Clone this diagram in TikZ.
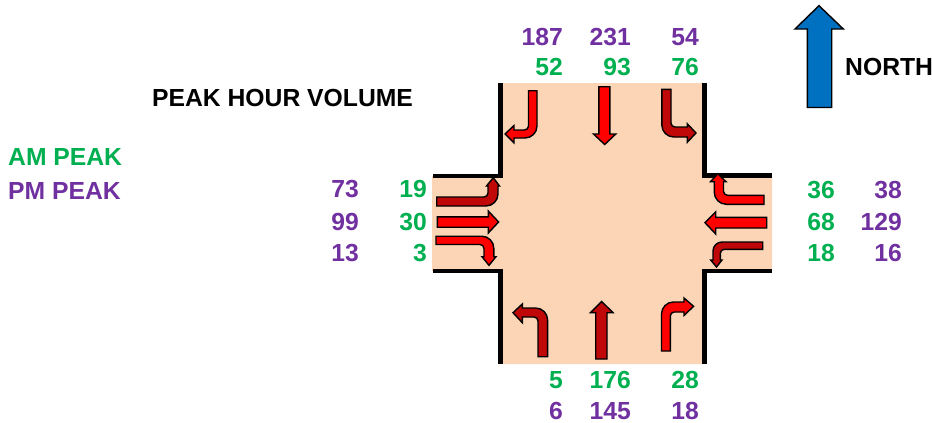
\documentclass[tikz,border=0pt]{standalone}
\usepackage{fontspec}
\setmainfont{Liberation Sans}
\definecolor{road}{HTML}{FBD5B5}
\definecolor{amg}{HTML}{00B050}
\definecolor{pmp}{HTML}{7030A0}
\definecolor{redA}{HTML}{FF0000}
\definecolor{redB}{HTML}{C00808}
\definecolor{northb}{HTML}{0070C0}
\tikzset{
  x=1pt,y=-1pt,
  lbl/.style={font=\fontsize{24.7}{28}\selectfont\bfseries,inner sep=0pt,anchor=base west},
  num/.style={lbl,anchor=base east},
  am/.style={text=amg},
  pm/.style={text=pmp},
  wall/.style={draw=black,line width=4.3pt,line join=miter,line cap=butt},
  bright/.style={fill=redA,draw=black,line width=1.4pt,line join=miter},
  bdark/.style={fill=redB,draw=black,line width=1.4pt,line join=miter},
}
\begin{document}
\begin{tikzpicture}
\useasboundingbox (0,0) rectangle (932,423);
% road
\fill[road] (500,83) -- (705,83) -- (705,176) -- (772,176) -- (772,271) -- (705,271) -- (705,364) -- (500,364) -- (500,271) -- (432,271) -- (432,176) -- (500,176) -- cycle;
\draw[wall] (500.5,83) -- (500.5,176) -- (433,176);
\draw[wall] (704.5,83) -- (704.5,175.5) -- (772,175.5);
\draw[wall] (433,271) -- (500.5,271) -- (500.5,364.3);
\draw[wall] (772,271) -- (704.5,271) -- (704.5,364.3);
% north arrow
\draw[fill=northb,draw=black,line width=1.4pt,line join=miter] (807.3,107.5) -- (807.3,29) -- (795,29) -- (819,5.7) -- (843.3,29) -- (831.7,29) -- (831.7,107.5) -- cycle;
% southbound
\draw[bright] (537,90.7) -- (528.5,90.7) [rounded corners=4] -- (528.5,130) [sharp corners] -- (514,130) -- (514,125.5) -- (505,134) -- (514,142.8) -- (514,138) [rounded corners=12] -- (537,138) [sharp corners] -- cycle;
\draw[bright] (598.8,86.7) -- (598.8,134) -- (593.5,134) -- (604.7,144.5) -- (615.8,134) -- (609.8,134) -- (609.8,86.7) -- cycle;
\draw[bdark] (661.8,89.3) -- (671,89.3) [rounded corners=4] -- (671,127) [sharp corners] -- (687.3,127) -- (687.3,123.8) -- (696,133) -- (687.3,142.2) -- (687.3,137) [rounded corners=12] -- (661.8,137) [sharp corners] -- cycle;
% eastbound
\draw[bdark] (436.7,197) -- (436.7,206) [rounded corners=12] -- (498,206) [sharp corners] -- (498,186) -- (499.5,186) -- (493.3,177.7) -- (486.5,186) -- (488,186) [rounded corners=4] -- (488,197) [sharp corners] -- cycle;
\draw[bright] (437.3,216.8) -- (488.3,216.8) -- (488.3,211) -- (498.6,222) -- (488.3,233) -- (488.3,227.2) -- (437.3,227.2) -- cycle;
\draw[bright] (436,236.2) -- (436,244.5) [rounded corners=4] -- (484,244.5) [sharp corners] -- (484,256.7) -- (482,256.7) -- (489,265.3) -- (496,256.7) -- (493.8,256.7) [rounded corners=12] -- (493.8,236.2) [sharp corners] -- cycle;
% westbound
\draw[bright] (764,195.3) -- (764,204.3) [rounded corners=12] -- (714.3,204.3) [sharp corners] -- (714.3,181.7) -- (710.5,181.7) -- (717.8,173.8) -- (726,181.7) -- (723.5,181.7) [rounded corners=4] -- (723.5,195.3) [sharp corners] -- cycle;
\draw[bright] (766.7,217.3) -- (715.7,217.3) -- (715.7,212) -- (705,222.7) -- (715.7,234) -- (715.7,228) -- (766.7,228) -- cycle;
\draw[bdark] (762.7,242) -- (762.7,249.3) [rounded corners=4] -- (720.3,249.3) [sharp corners] -- (720.3,260) -- (722,260) -- (716.5,267) -- (710.7,260) -- (713,260) [rounded corners=9] -- (713,242) [sharp corners] -- cycle;
% northbound
\draw[bdark] (547.6,356.7) -- (538,356.7) [rounded corners=4] -- (538,317) [sharp corners] -- (522.3,317) -- (522.3,322.7) -- (513,312.7) -- (522.3,304) -- (522.3,308) [rounded corners=12] -- (547.6,308) [sharp corners] -- cycle;
\draw[bdark] (595.7,359) -- (595.7,312.7) -- (590.5,312.7) -- (601.7,301.5) -- (613,312.7) -- (607,312.7) -- (607,359) -- cycle;
\draw[bright] (661.5,351) -- (670.3,351) [rounded corners=4] -- (670.3,312) [sharp corners] -- (684,312) -- (684,315.5) -- (693.6,306.3) -- (684,298) -- (684,302) [rounded corners=12] -- (661.5,302) [sharp corners] -- cycle;
% labels
\node[lbl] (title) at (152,106) {PEAK HOUR VOLUME};
\node[lbl] (north) at (845,75.5) {NORTH};
\node[lbl,am] (amlab) at (8,165.5) {AM PEAK};
\node[lbl,pm] (pmlab) at (8,199.5) {PM PEAK};
% north numbers
\node[num,pm] (n1) at (563,45.5) {187};
\node[num,pm] (n2) at (631,45.5) {231};
\node[num,pm] (n3) at (699,45.5) {54};
\node[num,am] (n4) at (563,75.5) {52};
\node[num,am] (n5) at (631,75.5) {93};
\node[num,am] (n6) at (699,75.5) {76};
% west numbers
\node[num,pm] (w1) at (359,197.5) {73};
\node[num,am] (w2) at (427,197.5) {19};
\node[num,pm] (w3) at (359,230.5) {99};
\node[num,am] (w4) at (427,230.5) {30};
\node[num,pm] (w5) at (359,261.5) {13};
\node[num,am] (w6) at (427,261.5) {3};
% east numbers
\node[num,am] (e1) at (835,198.5) {36};
\node[num,pm] (e2) at (902,198.5) {38};
\node[num,am] (e3) at (835,230.5) {68};
\node[num,pm] (e4) at (902,230.5) {129};
\node[num,am] (e5) at (835,261.5) {18};
\node[num,pm] (e6) at (902,261.5) {16};
% south numbers
\node[num,am] (s1) at (563,388.5) {5};
\node[num,am] (s2) at (631,388.5) {176};
\node[num,am] (s3) at (699,388.5) {28};
\node[num,pm] (s4) at (563,419.5) {6};
\node[num,pm] (s5) at (631,419.5) {145};
\node[num,pm] (s6) at (699,419.5) {18};
\end{tikzpicture}
\end{document}
